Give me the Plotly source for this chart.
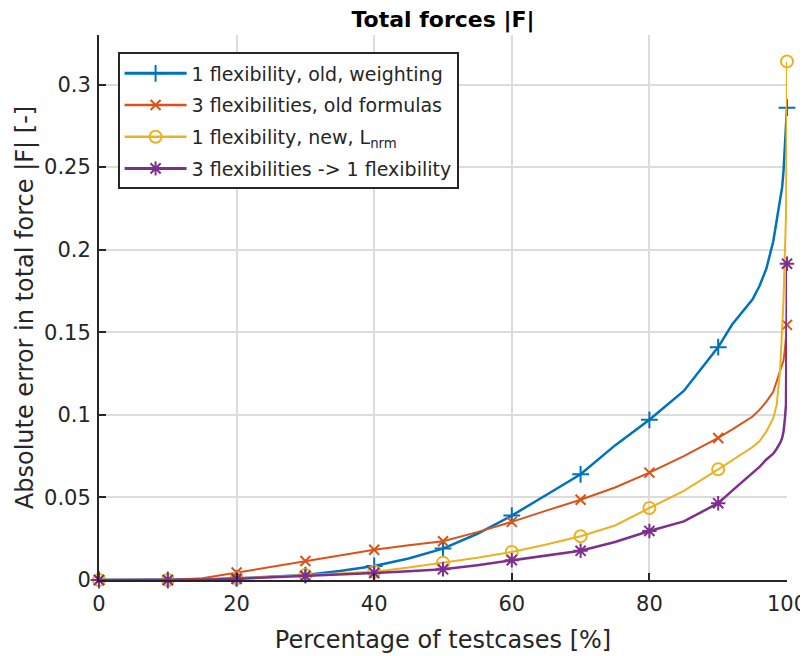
import plotly.graph_objects as go

# ---- data ----
pct = [0, 5, 10, 15, 20, 25, 30, 35, 40, 45, 50, 55, 60, 65, 70, 75, 80, 85, 90,
       92, 94, 95, 96, 97, 98, 98.5, 99, 99.3, 99.5, 99.7, 99.85, 100]

blue_vals = [0, 0, 0, 0.0003, 0.001, 0.002, 0.003, 0.0055, 0.0085, 0.013, 0.019, 0.028,
             0.039, 0.0515, 0.064, 0.0815, 0.097, 0.1145, 0.141,
             0.1545, 0.165, 0.17, 0.178, 0.1885, 0.205, 0.217, 0.229, 0.238, 0.248, 0.264, 0.27, 0.286]
orange_vals = [0, 0, 0, 0.001, 0.0045, 0.008, 0.0115, 0.015, 0.0183, 0.021, 0.0235, 0.029,
               0.0352, 0.042, 0.0486, 0.056, 0.065, 0.075, 0.086,
               0.091, 0.096, 0.099, 0.103, 0.108, 0.114, 0.12, 0.126, 0.13, 0.133, 0.14, 0.147, 0.1545]
yellow_vals = [0, 0, 0, 0.0002, 0.001, 0.002, 0.003, 0.004, 0.005, 0.0075, 0.0105, 0.0135,
               0.017, 0.0215, 0.0265, 0.033, 0.0436, 0.054, 0.067,
               0.0725, 0.078, 0.0805, 0.084, 0.09, 0.098, 0.106, 0.127, 0.15, 0.17, 0.2, 0.22, 0.314]
purple_vals = [0, 0, 0, 0.0002, 0.0007, 0.0015, 0.0025, 0.0035, 0.0043, 0.0053, 0.0065, 0.009,
               0.012, 0.0148, 0.0177, 0.023, 0.0297, 0.0355, 0.0465,
               0.054, 0.0615, 0.065, 0.0685, 0.073, 0.0765, 0.0795, 0.083, 0.086, 0.09, 0.098, 0.106, 0.1915]

series_names = ["1 flexibility, old, weighting",
                "3 flexibilities, old formulas",
                "1 flexibility, new, L<sub>nrm</sub>",
                "3 flexibilities -> 1 flexibility"]

x_ticks = [0, 20, 40, 60, 80, 100]
y_ticks = [0, 0.05, 0.1, 0.15, 0.2, 0.25, 0.3]
y_tick_text = ["0", "0.05", "0.1", "0.15", "0.2", "0.25", "0.3"]

# ---- styles ----
colors = ["#0072BD", "#D95319", "#EDB120", "#7E2F8E"]
symbols = ["cross-thin", "x-thin", "circle-open", "asterisk"]
msizes = [12, 10, 12, 12]
lwidths = [2.5, 2, 2, 2.5]
all_vals = [blue_vals, orange_vals, yellow_vals, purple_vals]

mk_idx = [i for i, p in enumerate(pct) if p % 10 == 0]

fig = go.Figure()
for k, (name, vals, c, s, ms, lw) in enumerate(zip(series_names, all_vals, colors, symbols, msizes, lwidths)):
    marker = dict(symbol=s, size=ms, color=c, line=dict(color=c, width=2))
    grp = "g%d" % k
    fig.add_trace(go.Scatter(x=pct, y=vals, mode="lines", legendgroup=grp,
                             line=dict(color=c, width=lw), showlegend=False,
                             hoverinfo="skip"))
    fig.add_trace(go.Scatter(x=[pct[i] for i in mk_idx], y=[vals[i] for i in mk_idx],
                             mode="markers", marker=marker, showlegend=False,
                             legendgroup=grp, cliponaxis=False))
    fig.add_trace(go.Scatter(x=[None], y=[None], mode="lines+markers", name=name,
                             legendgroup=grp,
                             line=dict(color=c, width=lw + 0.5), marker=marker))

font_family = "DejaVu Sans, sans-serif"

# the page body adds an 8 px offset; the figure is sized to compensate
fig.update_layout(
    width=800, height=648,
    margin=dict(l=91, r=21, t=27, b=76),
    paper_bgcolor="white", plot_bgcolor="white",
    font=dict(family=font_family, color="#262626", size=21),
    title=dict(text="<b>Total forces |F|</b>", x=0.5, xref="paper",
               y=1 - 11 / 648, yref="container", yanchor="middle",
               font=dict(size=22, color="black", family=font_family)),
    legend=dict(x=0.027, y=0.968, xanchor="left", yanchor="top",
                bgcolor="white", bordercolor="#262626", borderwidth=2,
                font=dict(size=19, color="#262626"), tracegroupgap=4,
                itemwidth=62),
    showlegend=True,
)

fig.update_xaxes(range=[0, 100], tickvals=x_ticks, ticktext=[str(v) for v in x_ticks],
                 showgrid=True, gridcolor="#dcdcdc", gridwidth=2,
                 showline=True, linecolor="#262626", linewidth=2,
                 ticks="inside", ticklen=7, tickwidth=2, tickcolor="#262626",
                 zeroline=False, mirror=False, automargin=False,
                 ticklabelstandoff=4,
                 title=dict(text="Percentage of testcases [%]", font=dict(size=24), standoff=16),
                 tickfont=dict(size=21))
fig.update_yaxes(range=[0, 0.33], tickvals=y_ticks, ticktext=y_tick_text,
                 showgrid=True, gridcolor="#dcdcdc", gridwidth=2,
                 showline=True, linecolor="#262626", linewidth=2,
                 ticks="inside", ticklen=7, tickwidth=2, tickcolor="#262626",
                 zeroline=False, mirror=False, automargin=False,
                 ticklabelstandoff=2,
                 title=dict(text="Absolute error in total force |F| [-]", font=dict(size=24), standoff=4),
                 tickfont=dict(size=21))

fig.write_html("out.html")
